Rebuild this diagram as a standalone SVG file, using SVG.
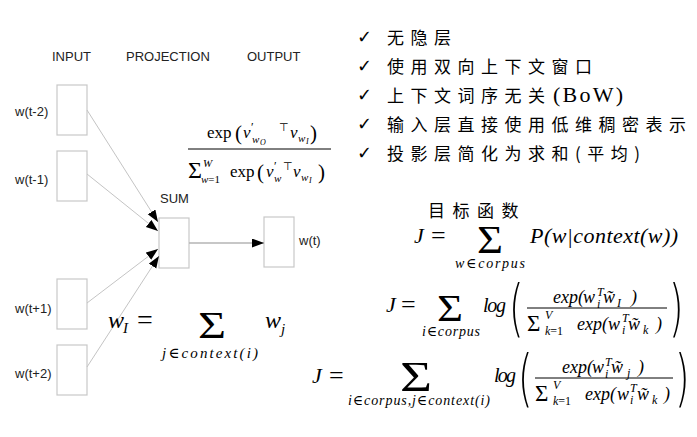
<svg xmlns="http://www.w3.org/2000/svg" width="697" height="437" viewBox="0 0 697 437">
<style>
.lab{font-family:"Liberation Sans",Arial,sans-serif;font-size:13px;fill:#222}
.box{fill:#fff;stroke:#c8c8c8;stroke-width:1.2}
.cn{font-family:"Noto Sans CJK SC","Noto Sans CJK JP",sans-serif;font-size:17px;letter-spacing:6.5px;fill:#000}
.ck{font-family:"DejaVu Sans",sans-serif;font-size:18px;fill:#000}
.mi{font-family:"Liberation Serif","DejaVu Serif",serif;font-style:italic;fill:#000}
.mr{font-family:"Liberation Serif","DejaVu Serif",serif;fill:#000}
.bp{font-family:"DejaVu Sans",sans-serif;font-weight:200;font-size:62px;fill:#000}
.tp{font-family:"DejaVu Sans",sans-serif;font-size:11px;fill:#000}
.con{stroke:#c4c4c4;stroke-width:1;fill:none}
.fl{stroke:#000;stroke-width:1}
</style>
<defs>
<marker id="ah" markerUnits="userSpaceOnUse" markerWidth="13" markerHeight="10" refX="12" refY="4.5" orient="auto">
<path d="M0,0 L12,4.5 L0,9 z" fill="#000"/>
</marker>
</defs>
<rect width="697" height="437" fill="#fff"/>

<text class="lab" x="52" y="61">INPUT</text>
<text class="lab" x="126" y="61">PROJECTION</text>
<text class="lab" x="247" y="61">OUTPUT</text>

<g id="in1"><rect class="box" x="57" y="85" width="30" height="50"/><text class="lab" x="15" y="116">w(t-2)</text></g>
<g id="in2"><rect class="box" x="57" y="151" width="30" height="50"/><text class="lab" x="15" y="184">w(t-1)</text></g>
<g id="in3"><rect class="box" x="57" y="279" width="30" height="50"/><text class="lab" x="15" y="313">w(t+1)</text></g>
<g id="in4"><rect class="box" x="57" y="345" width="30" height="50"/><text class="lab" x="15" y="378">w(t+2)</text></g>
<g id="sum"><rect class="box" x="159" y="218" width="30" height="50"/><text class="lab" x="160" y="203">SUM</text></g>
<g id="out"><rect class="box" x="264" y="217" width="30" height="50"/><text class="lab" x="299" y="245">w(t)</text></g>

<g id="connectors">
<line class="con" x1="87" y1="110" x2="158" y2="222" marker-end="url(#ah)"/>
<line class="con" x1="87" y1="174" x2="158" y2="231" marker-end="url(#ah)"/>
<line class="con" x1="87" y1="303" x2="158" y2="249" marker-end="url(#ah)"/>
<line class="con" x1="87" y1="367" x2="159" y2="256" marker-end="url(#ah)"/>
<line x1="189" y1="243" x2="264" y2="243" stroke="#b4b4b4" stroke-width="1.5" marker-end="url(#ah)"/>
</g>

<!-- softmax -->
<g id="softmax">
<text class="mr" x="207" y="138" font-size="17">exp</text>
<text class="mr" x="235" y="140" font-size="21">(</text>
<text class="mi" x="243" y="138" font-size="17">v</text>
<text class="mr" x="251" y="131" font-size="12">′</text>
<text class="mi" x="252" y="143" font-size="11">w</text>
<text class="mi" x="260" y="145" font-size="8">O</text>
<text class="tp" x="279" y="131">⊤</text>
<text class="mi" x="290" y="138" font-size="17">v</text>
<text class="mi" x="298" y="142" font-size="11">w</text>
<text class="mi" x="306" y="144" font-size="8">I</text>
<text class="mr" x="310" y="140" font-size="21">)</text>
<line class="fl" x1="188" y1="149" x2="331" y2="149"/>
<text class="mr" x="188" y="178" font-size="24">Σ</text>
<text class="mi" x="203" y="167" font-size="11">W</text>
<text class="mi" x="201" y="183" font-size="11">w<tspan font-style="normal">=1</tspan></text>
<text class="mr" x="230" y="177" font-size="17">exp</text>
<text class="mr" x="257" y="179" font-size="21">(</text>
<text class="mi" x="266" y="177" font-size="17">v</text>
<text class="mr" x="274" y="170" font-size="12">′</text>
<text class="mi" x="274" y="182" font-size="11">w</text>
<text class="tp" x="283" y="170">⊤</text>
<text class="mi" x="293" y="177" font-size="17">v</text>
<text class="mi" x="301" y="181" font-size="11">w</text>
<text class="mi" x="309" y="183" font-size="8">I</text>
<text class="mr" x="318" y="179" font-size="21">)</text>
</g>

<!-- w_I -->
<g id="wI">
<text class="mi" x="108" y="328" font-size="24">w</text>
<text class="mi" x="123" y="333" font-size="15">I</text>
<text class="mr" x="137" y="329" font-size="28">=</text>
<text class="mr" x="198" y="338" font-size="38" textLength="28" lengthAdjust="spacingAndGlyphs">Σ</text>
<text class="mi" x="162" y="358" font-size="15" textLength="96">j∈context(i)</text>
<text class="mi" x="265" y="328" font-size="24">w</text>
<text class="mi" x="281" y="334" font-size="15">j</text>
</g>

<!-- bullet list -->
<g id="list">
<text class="ck" x="357" y="43">✓</text>
<text class="ck" x="357" y="72">✓</text>
<text class="ck" x="357" y="101">✓</text>
<text class="ck" x="357" y="130">✓</text>
<text class="ck" x="357" y="159">✓</text>
<text class="cn" x="387" y="44">无隐层</text>
<text class="cn" x="387" y="73">使用双向上下文窗口</text>
<text class="cn" x="387" y="102">上下文词序无关</text>
<text class="mr" x="553" y="102" font-size="22" textLength="70">(BoW)</text>
<text class="cn" x="387" y="131">输入层直接使用低维稠密表示</text>
<text class="cn" x="387" y="160">投影层简化为求和(平均)</text>
</g>

<text class="cn" x="428" y="217" font-size="15" style="letter-spacing:7.5px">目标函数</text>

<!-- F1 -->
<g id="f1">
<text class="mi" x="414" y="243" font-size="22">J</text>
<text class="mr" x="431" y="244" font-size="26">=</text>
<text class="mr" x="477" y="253" font-size="39" textLength="26" lengthAdjust="spacingAndGlyphs">Σ</text>
<text class="mi" x="455" y="268" font-size="14" textLength="70">w∈corpus</text>
<text class="mi" x="530" y="243" font-size="22" textLength="148">P(w|context(w))</text>
</g>

<!-- F2 -->
<g id="f2">
<text class="mi" x="386" y="312" font-size="22">J</text>
<text class="mr" x="401" y="313" font-size="26">=</text>
<text class="mr" x="437" y="321" font-size="38" textLength="26" lengthAdjust="spacingAndGlyphs">Σ</text>
<text class="mi" x="422" y="336" font-size="14" textLength="58">i∈corpus</text>
<text class="mi" x="483" y="312" font-size="20" textLength="23">log</text>
<text class="bp" transform="translate(509,329) scale(0.6,1)">(</text>
<text class="mi" x="553" y="303" font-size="18">exp(</text>
<text class="mi" x="583" y="303" font-size="18">w</text>
<text class="mi" x="597" y="296" font-size="12">T</text>
<text class="mi" x="597" y="308" font-size="12">i</text>
<text class="mi" x="603" y="303" font-size="18">w̃</text>
<text class="mi" x="617" y="307" font-size="12">I</text>
<text class="mi" x="631" y="303" font-size="18">)</text>
<line class="fl" x1="527" y1="308" x2="667" y2="308"/>
<text class="mr" x="527" y="331" font-size="23">Σ</text>
<text class="mi" x="545" y="319" font-size="12">V</text>
<text class="mi" x="545" y="335" font-size="12">k<tspan font-style="normal">=1</tspan></text>
<text class="mi" x="577" y="330" font-size="18">exp(</text>
<text class="mi" x="608" y="330" font-size="18">w</text>
<text class="mi" x="622" y="322" font-size="12">T</text>
<text class="mi" x="622" y="334" font-size="12">i</text>
<text class="mi" x="628" y="330" font-size="18">w̃</text>
<text class="mi" x="643" y="334" font-size="12">k</text>
<text class="mi" x="656" y="330" font-size="18">)</text>
<text class="bp" transform="translate(669,329) scale(0.6,1)">)</text>
</g>

<!-- F3 -->
<g id="f3">
<text class="mi" x="312" y="383" font-size="22">J</text>
<text class="mr" x="329" y="384" font-size="26">=</text>
<text class="mr" x="400" y="391" font-size="42" textLength="32" lengthAdjust="spacingAndGlyphs">Σ</text>
<text class="mi" x="348" y="405" font-size="14" textLength="142">i∈corpus,j∈context(i)</text>
<text class="mi" x="494" y="382" font-size="20" textLength="22">log</text>
<text class="bp" transform="translate(518,399) scale(0.6,1)">(</text>
<text class="mi" x="562" y="373" font-size="18">exp(</text>
<text class="mi" x="592" y="373" font-size="18">w</text>
<text class="mi" x="605" y="366" font-size="12">T</text>
<text class="mi" x="605" y="378" font-size="12">i</text>
<text class="mi" x="611" y="373" font-size="18">w̃</text>
<text class="mi" x="627" y="377" font-size="12">j</text>
<text class="mi" x="638" y="373" font-size="18">)</text>
<line class="fl" x1="535" y1="378" x2="673" y2="378"/>
<text class="mr" x="535" y="401" font-size="23">Σ</text>
<text class="mi" x="553" y="389" font-size="12">V</text>
<text class="mi" x="553" y="405" font-size="12">k<tspan font-style="normal">=1</tspan></text>
<text class="mi" x="585" y="400" font-size="18">exp(</text>
<text class="mi" x="617" y="400" font-size="18">w</text>
<text class="mi" x="630" y="392" font-size="12">T</text>
<text class="mi" x="630" y="404" font-size="12">i</text>
<text class="mi" x="637" y="400" font-size="18">w̃</text>
<text class="mi" x="652" y="404" font-size="12">k</text>
<text class="mi" x="664" y="400" font-size="18">)</text>
<text class="bp" transform="translate(675,399) scale(0.6,1)">)</text>
</g>
</svg>
